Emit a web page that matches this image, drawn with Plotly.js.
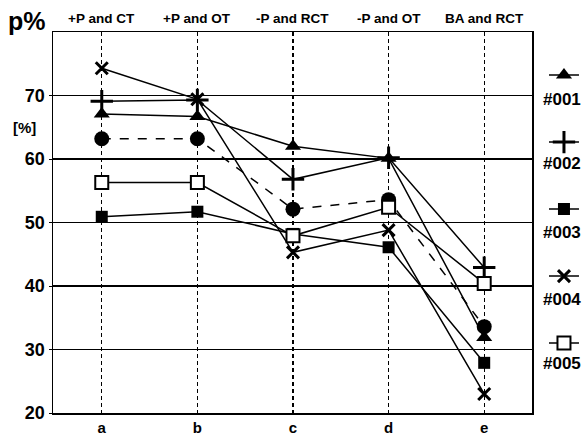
<!DOCTYPE html>
<html>
<head>
<meta charset="utf-8">
<script src="https://cdn.plot.ly/plotly-3.0.1.min.js"></script>
<style>html,body{margin:0;padding:0;background:#fff;} #chart{width:586px;height:434px;}</style>
</head>
<body>
<div id="chart"></div>
<script>
const categories = ['a', 'b', 'c', 'd', 'e'];
const topLabels = ['+P and CT', '+P and OT', '-P and RCT', '-P and OT', 'BA and RCT'];
const s001 = [67.1, 66.7, 62.0, 60.1, 31.9];
const s002 = [69.1, 69.3, 56.8, 60.2, 42.9];
const s003 = [50.9, 51.7, 48.2, 46.1, 27.9];
const s004 = [74.3, 69.4, 45.3, 48.8, 23.0];
const s005 = [56.3, 56.3, 47.9, 52.4, 40.4];
const sCircle = [63.2, 63.2, 52.1, 53.6, 33.6];
const seriesNames = ['#001', '#002', '#003', '#004', '#005'];
const yTicks = [20, 30, 40, 50, 60, 70];

const FONT = 'Liberation Sans, Arial, sans-serif';
const idx = categories.map((_, i) => i);

function tr(y, name, marker, dash, showlegend) {
  return {
    x: idx, y: y, name: name, type: 'scatter', mode: 'lines+markers',
    line: {color: '#000', width: 1.5, dash: dash || 'solid'},
    marker: marker, showlegend: showlegend, legendgroup: name,
    cliponaxis: false
  };
}

const data = [
  tr(sCircle, 'circle', {symbol: 'circle', size: 15, color: '#000'}, 'dash', false),
  tr(s001, ' ', {symbol: 'triangle-up', size: 14, color: '#000'}, 'solid', true),
  tr(s002, '  ', {symbol: 'cross-thin', size: 16, color: '#000', line: {width: 3, color: '#000'}}, 'solid', true),
  tr(s003, '   ', {symbol: 'square', size: 12, color: '#000'}, 'solid', true),
  tr(s004, '    ', {symbol: 'x-thin', size: 12, color: '#000', line: {width: 3, color: '#000'}}, 'solid', true),
  tr(s005, '     ', {symbol: 'square', size: 13, color: '#fff', line: {width: 2, color: '#000'}}, 'solid', true)
];

const annotations = [];
topLabels.forEach((t, i) => annotations.push({
  x: i, xref: 'x', y: 1, yref: 'paper', xanchor: 'center', yanchor: 'bottom', yshift: 4,
  text: t, showarrow: false, font: {family: FONT, size: 13.5, color: '#000', weight: 'bold'}
}));
annotations.push({x: (27 - 53) / 479, y: 1 + 11 / 381, xref: 'paper', yref: 'paper',
  xanchor: 'center', yanchor: 'middle', text: 'p%', showarrow: false,
  font: {family: FONT, size: 25, color: '#000', weight: 'bold'}});
annotations.push({x: (24 - 53) / 479, y: (413 - 127) / 381, xref: 'paper', yref: 'paper',
  xanchor: 'center', yanchor: 'middle', text: '[%]', showarrow: false,
  font: {family: FONT, size: 15, color: '#000', weight: 'bold'}});
const legY = [0.824, 0.656, 0.475, 0.297, 0.131];
seriesNames.forEach((n, i) => annotations.push({
  x: (562 - 53) / 479, y: legY[i], xref: 'paper', yref: 'paper', xanchor: 'center', yanchor: 'middle',
  text: n, showarrow: false,
  font: {family: FONT, size: 17, color: '#000', weight: 'bold'}
}));

const layout = {
  width: 586, height: 434,
  margin: {l: 53, r: 54, t: 32, b: 21, autoexpand: false},
  paper_bgcolor: '#fff', plot_bgcolor: '#fff',
  font: {family: FONT, color: '#000'},
  xaxis: {
    range: [-0.51, 4.5], tickvals: idx, ticktext: categories,
    showgrid: true, gridcolor: '#000', gridwidth: 1.2, griddash: '4px,3px',
    showline: true, linecolor: '#000', linewidth: 1.5, mirror: true,
    ticks: '', ticklabelstandoff: 0,
    tickfont: {family: FONT, size: 15, weight: 'bold', color: '#000'},
    zeroline: false, fixedrange: true
  },
  yaxis: {
    range: [20, 80], tickvals: yTicks,
    showgrid: true, gridcolor: '#000', gridwidth: 1.4,
    showline: true, linecolor: '#000', linewidth: 1.5, mirror: true,
    ticks: 'outside', ticklen: 3, tickcolor: '#000',
    tickfont: {family: FONT, size: 18, weight: 'bold', color: '#000'},
    zeroline: false, fixedrange: true
  },
  showlegend: true,
  legend: {
    x: 1.025, xanchor: 'left', y: 0.925, yanchor: 'top',
    bgcolor: 'rgba(0,0,0,0)', font: {size: 12, family: FONT},
    tracegroupgap: 48, itemwidth: 30
  },
  annotations: annotations
};

Plotly.newPlot('chart', data, layout, {displayModeBar: false, staticPlot: true});
</script>
</body>
</html>
